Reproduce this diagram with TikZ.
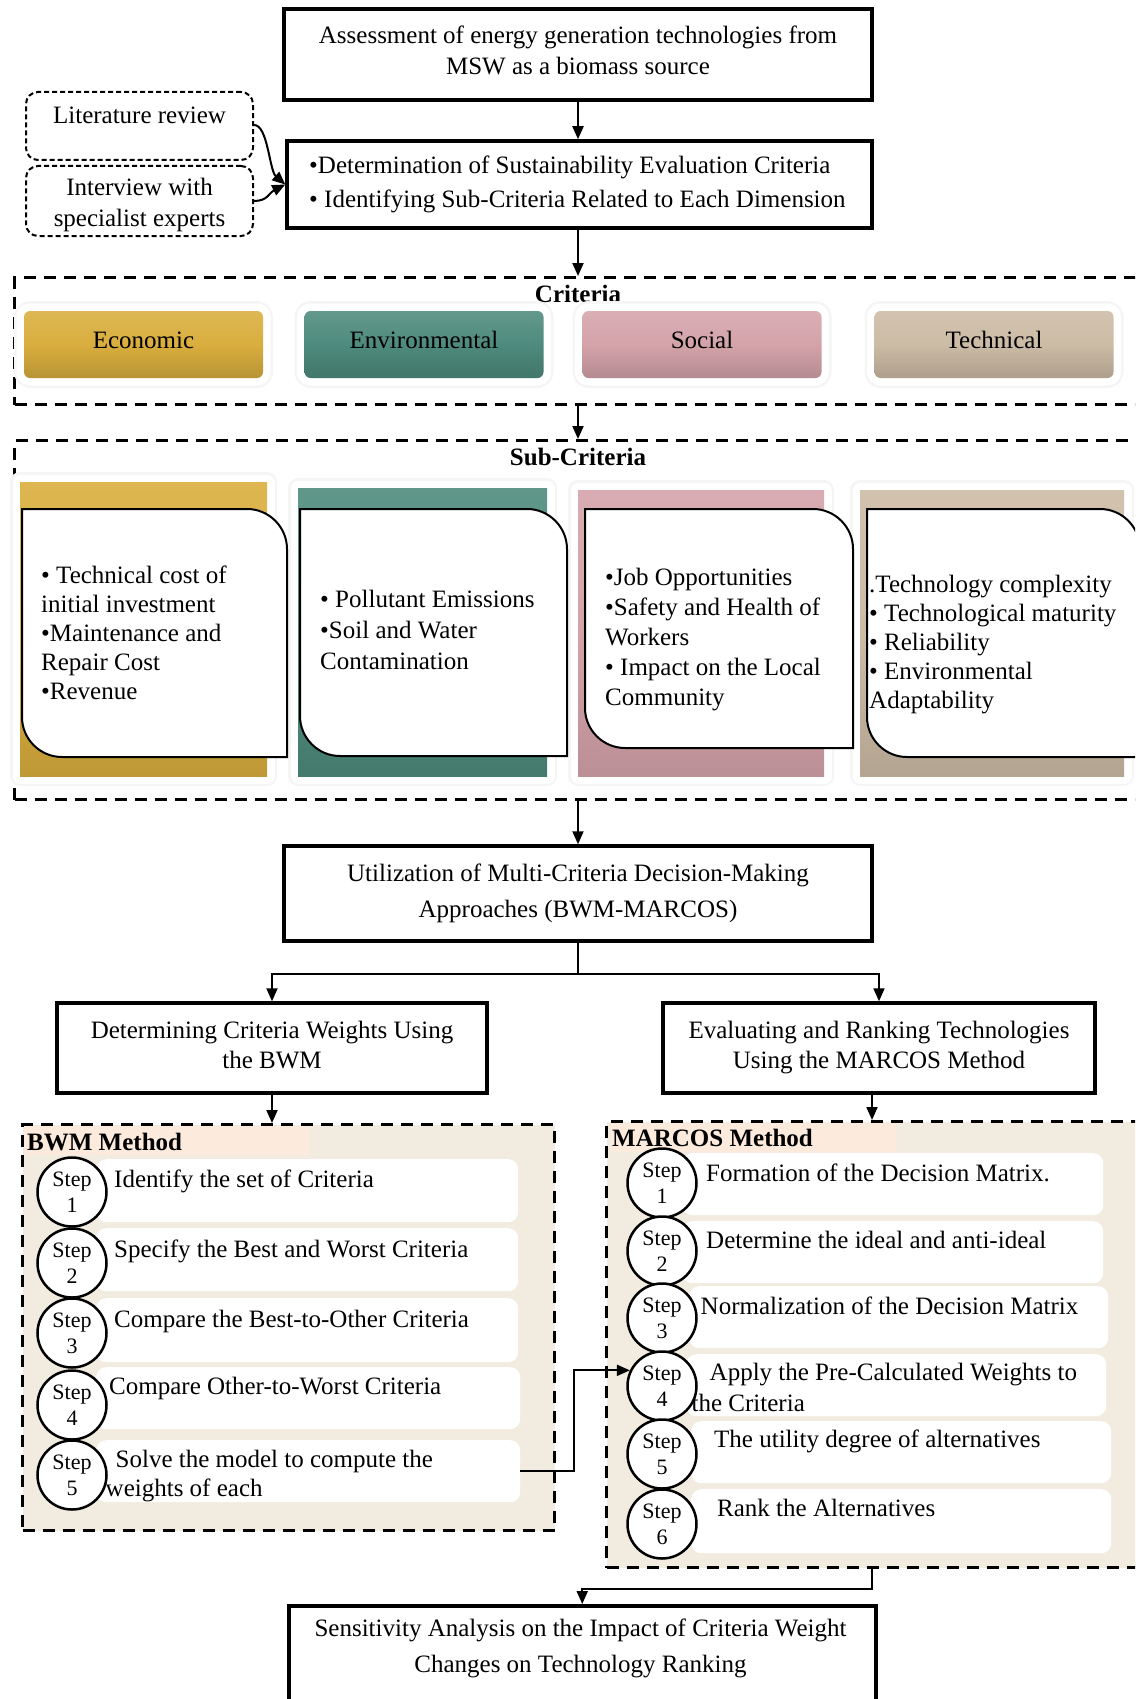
\documentclass[tikz,border=0pt]{standalone}
\usepackage{fontspec}
\setmainfont{Liberation Serif}
\usetikzlibrary{arrows.meta,calc}
\definecolor{cgold}{HTML}{D9AE3E}
\definecolor{cteal}{HTML}{4E8B7D}
\definecolor{cpink}{HTML}{D4A3AA}
\definecolor{ctan}{HTML}{CCBBA5}
\definecolor{beige}{HTML}{F2ECE0}
\definecolor{peach}{HTML}{FCEBDD}
\tikzset{
 txt/.style={font=\fontsize{25}{30}\selectfont, inner sep=0pt},
 boldtxt/.style={font=\fontsize{25}{30}\selectfont\bfseries, inner sep=0pt},
 mainbox/.style={draw, line width=3.5pt, inner sep=0pt, txt, align=center},
 dbox/.style={draw, line width=3pt, dash pattern=on 12pt off 8pt, inner sep=0pt},
 rdbox/.style={draw, line width=2pt, dash pattern=on 5pt off 3pt, rounded corners=12pt, inner sep=0pt},
 arr/.style={line width=2pt, -{Triangle[length=13pt,width=11pt]}},
 conn/.style={line width=2pt},
 halo/.style={preaction={draw=black!4, line width=20pt, line join=round}, preaction={draw=white, line width=15pt, line join=round}},
 critstyle/.style={halo, rounded corners=6pt, minimum width=239pt, minimum height=67pt, txt},
 card/.style={draw, fill=white, line width=2pt},
 cardtxt/.style={font=\fontsize{25}{29}\selectfont, inner sep=0pt, align=left, anchor=north west},
 stepc/.style={circle, draw, line width=2.5pt, fill=white, minimum size=69pt, inner sep=0pt, font=\fontsize{22}{26}\selectfont, align=center},
 stepbar/.style={fill=white, rounded corners=10pt, inner sep=0pt, anchor=north west},
 steptxt/.style={txt, anchor=west},
}
\begin{document}
\begin{tikzpicture}[x=1pt,y=-1pt]
\useasboundingbox (0,0) rectangle (1135,1699);
\clip (0,0) rectangle (1135,1699);

% ---------- top part
\node[mainbox, minimum width=588pt, minimum height=91pt] (top) at (578,54.5) {};
\node[txt, align=center, font=\fontsize{25}{31}\selectfont] (toptxt) at (578,50.5)
  {Assessment of energy generation technologies from\\MSW as a biomass source};
\node[mainbox, minimum width=585pt, minimum height=87pt] (sec) at (579.5,184.5) {};
\node[txt, align=left, anchor=west, font=\fontsize{25}{34}\selectfont] (sectxt) at (309,184.5)
  {\textbullet Determination of Sustainability Evaluation Criteria\\\textbullet\ Identifying Sub-Criteria Related to Each Dimension};

\node[rdbox, minimum width=227pt, minimum height=68pt] (lit) at (139.5,126) {};
\node[txt, anchor=north] (littxt) at ([yshift=-16pt]lit.north) {Literature review};
\node[rdbox, minimum width=227pt, minimum height=70pt] (inter) at (139.5,201) {};
\node[txt, align=center, font=\fontsize{25}{31}\selectfont] (intertxt) at (139.5,205) {Interview with\\specialist experts};

\draw[arr] ([yshift=1pt]lit.east) .. controls ++(14,0) and ++(-16,-14) .. (sec.west);
\draw[arr] (inter.east) .. controls ++(14,0) and ++(-16,8) .. (sec.west);

% ---------- criteria
\node[dbox, minimum width=1137pt, minimum height=127pt, anchor=north west] (critbox) at (13,276) {};
\node[boldtxt] (crittitle) at (578,294) {Criteria};
\node[critstyle, top color=cgold!88!white, bottom color=cgold!85!black, middle color=cgold] (econ) at (143.5,344.5) {\raisebox{9pt}{Economic}};
\node[critstyle, top color=cteal!88!white, bottom color=cteal!85!black, middle color=cteal] (envi) at (424,344.5) {\raisebox{9pt}{Environmental}};
\node[critstyle, top color=cpink!88!white, bottom color=cpink!85!black, middle color=cpink] (soci) at (702,344.5) {\raisebox{9pt}{Social}};
\node[critstyle, top color=ctan!88!white, bottom color=ctan!85!black, middle color=ctan] (tech) at (994,344.5) {\raisebox{9pt}{Technical}};

% ---------- sub-criteria
\node[dbox, minimum width=1137pt, minimum height=359pt, anchor=north west] (subbox) at (13,439) {};
\node[boldtxt] (subtitle) at (578,457) {Sub-Criteria};

\path[halo, top color=cgold!90!white, bottom color=cgold!88!black, middle color=cgold] (20,482) rectangle (267,776);
\path[halo, top color=cteal!90!white, bottom color=cteal!88!black, middle color=cteal] (298,488) rectangle (547,776);
\path[halo, top color=cpink!90!white, bottom color=cpink!88!black, middle color=cpink] (578,490) rectangle (824,776);
\path[halo, top color=ctan!90!white, bottom color=ctan!88!black, middle color=ctan] (860,490) rectangle (1124,776);

\draw[card] (22,509) -- (247,509) .. controls (269,509) and (287,527) .. (287,549) -- (287,757) -- (62,757) .. controls (40,757) and (22,739) .. (22,717) -- cycle;
\draw[card] (300,509) -- (527,509) .. controls (549,509) and (567,527) .. (567,549) -- (567,756) -- (340,756) .. controls (318,756) and (300,738) .. (300,716) -- cycle;
\draw[card] (585,509) -- (813,509) .. controls (835,509) and (853,527) .. (853,549) -- (853,748) -- (625,748) .. controls (603,748) and (585,730) .. (585,708) -- cycle;
\draw[card] (867,509) -- (1100,509) .. controls (1122,509) and (1140,527) .. (1140,549) -- (1140,757) -- (907,757) .. controls (885,757) and (867,739) .. (867,717) -- cycle;

\node[cardtxt] (c1txt) at (41,566) {\textbullet\ Technical cost of\\initial investment\\\textbullet Maintenance and\\Repair Cost\\\textbullet Revenue};
\node[cardtxt, font=\fontsize{25}{31}\selectfont] (c2txt) at (320,590) {\textbullet\ Pollutant Emissions\\\textbullet Soil and Water\\Contamination};
\node[cardtxt, font=\fontsize{25}{30}\selectfont] (c3txt) at (605,568) {\textbullet Job Opportunities\\\textbullet Safety and Health of\\Workers\\\textbullet\ Impact on the Local\\Community};
\node[cardtxt] (c4txt) at (869,575) {.Technology complexity\\\textbullet\ Technological maturity\\\textbullet\ Reliability\\\textbullet\ Environmental\\Adaptability};

% ---------- MCDM
\node[mainbox, minimum width=588pt, minimum height=95pt, font=\fontsize{25}{36}\selectfont] (mcdm) at (578,893.5)
  {Utilization of Multi-Criteria Decision-Making\\Approaches (BWM-MARCOS)};
\node[mainbox, minimum width=430pt, minimum height=90pt] (bwm) at (272,1048) {};
\node[txt, align=center] (bwmtxt) at (272,1045) {Determining Criteria Weights Using\\the BWM};
\node[mainbox, minimum width=432pt, minimum height=90pt] (marcos) at (879,1048)
  {Evaluating and Ranking Technologies\\Using the MARCOS Method};

% ---------- BWM method
\node[dbox, fill=beige, minimum width=532pt, minimum height=406pt, anchor=north west] (bwmbox) at (21,1123) {};
\fill[peach] (24,1126) rectangle (309,1155);
\node[boldtxt, anchor=west] (bwmtitle) at (27,1142) {BWM Method};
\node[stepbar, minimum width=422pt, minimum height=63pt] (b1) at (96,1159) {};
\node[stepbar, minimum width=422pt, minimum height=63pt] (b2) at (96,1228) {};
\node[stepbar, minimum width=422pt, minimum height=64pt] (b3) at (96,1298) {};
\node[stepbar, minimum width=424pt, minimum height=62pt] (b4) at (96,1367) {};
\node[stepbar, minimum width=424pt, minimum height=62pt] (b5) at (96,1440) {};
\node[stepc] (bc1) at (72,1192) {Step\\1};
\node[stepc] (bc2) at (72,1263) {Step\\2};
\node[stepc] (bc3) at (72,1333) {Step\\3};
\node[stepc] (bc4) at (72,1405) {Step\\4};
\node[stepc] (bc5) at (72,1475) {Step\\5};
\node[steptxt] (bt1) at (114,1181) {Identify the set of Criteria};
\node[steptxt] (bt2) at (114,1251) {Specify the Best and Worst Criteria};
\node[steptxt] (bt3) at (114,1321) {Compare the Best-to-Other Criteria};
\node[steptxt] (bt4) at (109,1388) {Compare Other-to-Worst Criteria};
\node[cardtxt] (bt5) at (105.5,1450) {\hspace*{10pt}Solve the model to compute the\\weights of each};

% ---------- MARCOS method
\node[dbox, fill=beige, minimum width=545pt, minimum height=446pt, anchor=north west] (mbox) at (605,1120) {};
\fill[peach] (611,1123) rectangle (896,1152);
\node[boldtxt, anchor=west] (mtitle) at (612,1138) {MARCOS Method};
\node[stepbar, minimum width=421pt, minimum height=62pt] (m1) at (682,1153) {};
\node[stepbar, minimum width=421pt, minimum height=62pt] (m2) at (682,1221) {};
\node[stepbar, minimum width=419pt, minimum height=62pt] (m3) at (689,1286) {};
\node[stepbar, minimum width=420pt, minimum height=62pt] (m4) at (686,1354) {};
\node[stepbar, minimum width=420pt, minimum height=62pt] (m5) at (691,1421) {};
\node[stepbar, minimum width=420pt, minimum height=64pt] (m6) at (691,1489) {};
\node[stepc] (mc1) at (662,1183) {Step\\1};
\node[stepc] (mc2) at (662,1251) {Step\\2};
\node[stepc] (mc3) at (662,1318) {Step\\3};
\node[stepc] (mc4) at (662,1386) {Step\\4};
\node[stepc] (mc5) at (662,1454) {Step\\5};
\node[stepc] (mc6) at (662,1524) {Step\\6};
\node[steptxt] (mt1) at (706,1173) {Formation of the Decision Matrix.};
\node[steptxt] (mt2) at (706,1240) {Determine the ideal and anti-ideal};
\node[steptxt] (mt3) at (700.5,1306) {Normalization of the Decision Matrix};
\node[cardtxt, font=\fontsize{25}{31}\selectfont] (mt4) at (691.5,1363) {\hspace*{18pt}Apply the Pre-Calculated Weights to\\the Criteria};
\node[steptxt] (mt5) at (714,1441) {The utility degree of alternatives};
\node[steptxt] (mt6) at (717,1508) {Rank the Alternatives};

% ---------- sensitivity
\node[draw, line width=3.5pt, minimum width=587pt, minimum height=140pt, anchor=north west, inner sep=0pt] (sens) at (287,1604) {};
\node[txt, align=center, font=\fontsize{25}{36}\selectfont] (senstxt) at (580.5,1648)
  {Sensitivity Analysis on the Impact of Criteria Weight\\Changes on Technology Ranking};

% ---------- connectors
\draw[arr] (top.south) -- (top.south |- sec.north);
\draw[arr] (top.south |- sec.south) -- (top.south |- critbox.north);
\draw[arr] (top.south |- critbox.south) -- (top.south |- subbox.north);
\draw[arr] (top.south |- subbox.south) -- (mcdm.north);
\coordinate (split) at ($(mcdm.south)+(0,31)$);
\draw[conn] (mcdm.south) -- (split);
\draw[arr] (split) -| (bwm.north);
\draw[arr] (split) -| (marcos.north);
\draw[arr] (bwm.south) -- (bwm.south |- bwmbox.north);
\coordinate (mdown) at ([xshift=-7pt]marcos.south);
\draw[arr] (mdown) -- (mdown |- mbox.north);
\draw[arr] (mdown |- mbox.south) -- ++(0,20) -| (sens.north);
\draw[arr] (b5.east) -- ++(54,0) |- (mc4.154);
\end{tikzpicture}
\end{document}
